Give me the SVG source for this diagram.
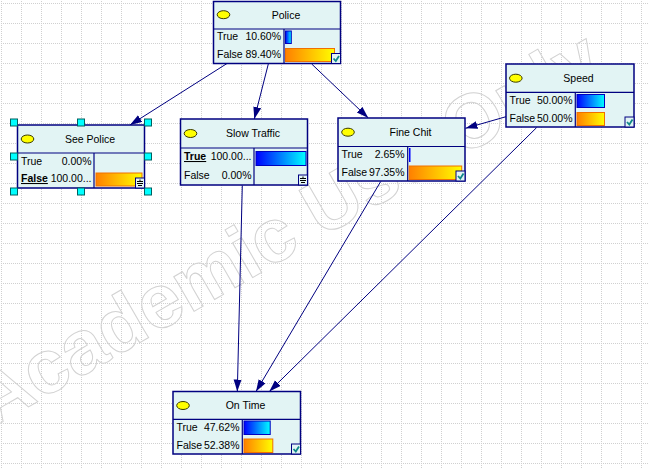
<svg xmlns="http://www.w3.org/2000/svg" width="648" height="468" viewBox="0 0 648 468">
<defs>
<style>
text{font-family:"Liberation Sans",Arial,sans-serif;font-size:10.5px;fill:#000}
.t{text-anchor:middle}
.v{text-anchor:end}
.b{font-weight:bold;text-decoration:underline}
.box{fill:#e2f4f4;stroke:#000080;stroke-width:1.5}
.sep{stroke:#000080;stroke-width:1.2}
.ell{fill:#ffff00;stroke:#3a3a00;stroke-width:1}
.tb{fill:url(#blue);stroke:#0000c0;stroke-width:1}
.fb{fill:url(#orange);stroke:#f07000;stroke-width:1}
.chk{fill:#e2f4f4;stroke:#000080;stroke-width:1}
.ck{fill:none;stroke:#108888;stroke-width:1.8}
.fl{fill:none;stroke:#000;stroke-width:1}
.edge{fill:none;stroke:#000080;stroke-width:1}
.h{fill:#00ffff;stroke:#006060;stroke-width:1}
.wm{font-family:"Liberation Sans",Arial,sans-serif;font-size:76px;font-weight:bold;fill:none;stroke:#d2d2d2;stroke-width:1}
</style>
<linearGradient id="blue" x1="0" y1="0" x2="1" y2="0"><stop offset="0" stop-color="#0000ff"/><stop offset="1" stop-color="#00ffff"/></linearGradient>
<linearGradient id="orange" x1="0" y1="0" x2="1" y2="0"><stop offset="0" stop-color="#ff8000"/><stop offset="1" stop-color="#ffff00"/></linearGradient>
<pattern id="grid" x="1" y="3" width="20" height="20" patternUnits="userSpaceOnUse">
<path d="M0.5 0V20M0 0.5H20" fill="none" stroke="#d0d0d0" stroke-width="1" stroke-dasharray="1 1"/>
</pattern>
<marker id="arr" markerUnits="userSpaceOnUse" markerWidth="13" markerHeight="9" refX="12" refY="4" orient="auto">
<path d="M0,0 L12,4 L0,8 z" fill="#000080"/>
</marker>
</defs>
<rect width="648" height="468" fill="#ffffff"/>
<rect width="648" height="468" fill="url(#grid)"/>
<g id="watermark">
<text class="wm" transform="translate(-8,428) rotate(-30)">Academic Use Only</text>
</g>
<g id="connectors">
<path class="edge" marker-end="url(#arr)" d="M227.3 63.3L130 125"/>
<path class="edge" marker-end="url(#arr)" d="M268.3 64L254.3 119"/>
<path class="edge" marker-end="url(#arr)" d="M311.7 64L368.3 118"/>
<path class="edge" marker-end="url(#arr)" d="M506 116.7L465.5 128.3"/>
<path class="edge" marker-end="url(#arr)" d="M242.3 185.5L237.3 391.5"/>
<path class="edge" marker-end="url(#arr)" d="M380.7 181.5L256 391.5"/>
<path class="edge" marker-end="url(#arr)" d="M536.7 127.5L269.3 391.5"/>
</g>
<g id="police" transform="translate(213.5,1.5)">
<rect class="box" x="0" y="0" width="127" height="62"/>
<line class="sep" x1="0" y1="27.5" x2="127" y2="27.5"/>
<line class="sep" x1="70.5" y1="27.5" x2="70.5" y2="62"/>
<ellipse class="ell" cx="10" cy="13.2" rx="6.3" ry="4"/>
<text class="t" x="72.5" y="17">Police</text>
<text x="3.5" y="38.5">True</text><text class="v" x="67.5" y="38.5">10.60%</text>
<text x="3.5" y="56">False</text><text class="v" x="67.5" y="56">89.40%</text>
<rect class="tb" x="72" y="29.5" width="5.8" height="12.5"/>
<rect class="fb" x="72" y="47" width="49" height="13"/>
<rect class="chk" x="118" y="52" width="9" height="10"/>
<path class="ck" d="M120 57L122.3 59.5L125.5 54.5"/>
</g>
<g id="seepolice" transform="translate(17.5,125)">
<rect class="box" x="0" y="0" width="127" height="63"/>
<line class="sep" x1="0" y1="28" x2="127" y2="28"/>
<line class="sep" x1="76.5" y1="28" x2="76.5" y2="63"/>
<ellipse class="ell" cx="10" cy="14" rx="6.3" ry="4"/>
<text class="t" x="72.5" y="17.5">See Police</text>
<text x="3.5" y="39.5">True</text><text class="v" x="74" y="39.5">0.00%</text>
<text class="b" x="3.5" y="57">False</text><text class="v" x="74" y="57">100.00...</text>
<rect class="fb" x="78.5" y="48" width="46" height="13"/>
<rect class="chk" x="118" y="53" width="9" height="10"/>
<path class="fl" d="M122.5 54.5V56.5M119.5 56.5H125.5M119.5 58.5H125.5M120.5 60.5H124.5"/>
<rect class="h" x="-7" y="-6" width="7" height="7"/>
<rect class="h" x="60" y="-6" width="7" height="7"/>
<rect class="h" x="127" y="-6" width="7" height="7"/>
<rect class="h" x="-7" y="28" width="7" height="7"/>
<rect class="h" x="127" y="28" width="7" height="7"/>
<rect class="h" x="-7" y="63" width="7" height="7"/>
<rect class="h" x="60" y="63" width="7" height="7"/>
<rect class="h" x="127" y="63" width="7" height="7"/>
</g>
<g id="slowtraffic" transform="translate(180.5,119)">
<rect class="box" x="0" y="0" width="127" height="66"/>
<line class="sep" x1="0" y1="29" x2="127" y2="29"/>
<line class="sep" x1="73.5" y1="29" x2="73.5" y2="66"/>
<ellipse class="ell" cx="10" cy="14.5" rx="6.3" ry="4"/>
<text class="t" x="72.5" y="18">Slow Traffic</text>
<text class="b" x="3.5" y="41">True</text><text class="v" x="71" y="41">100.00...</text>
<text x="3.5" y="59.5">False</text><text class="v" x="71" y="59.5">0.00%</text>
<rect class="tb" x="75.5" y="32.5" width="50" height="14"/>
<rect class="chk" x="118" y="56" width="9" height="10"/>
<path class="fl" d="M122.5 57.5V59.5M119.5 59.5H125.5M119.5 61.5H125.5M120.5 63.5H124.5"/>
</g>
<g id="finechit" transform="translate(338,118)">
<rect class="box" x="0" y="0" width="127" height="63"/>
<line class="sep" x1="0" y1="28.5" x2="127" y2="28.5"/>
<line class="sep" x1="69.7" y1="28.5" x2="69.7" y2="63"/>
<ellipse class="ell" cx="10" cy="14.2" rx="6.3" ry="4"/>
<text class="t" x="72.5" y="17.7">Fine Chit</text>
<text x="3.5" y="40">True</text><text class="v" x="66.5" y="40">2.65%</text>
<text x="3.5" y="57.5">False</text><text class="v" x="66.5" y="57.5">97.35%</text>
<rect x="71" y="30" width="1.5" height="14" fill="#0000ff"/>
<rect class="fb" x="71.2" y="48" width="52.5" height="13.5"/>
<rect class="chk" x="118" y="53" width="9" height="10"/>
<path class="ck" d="M120 58L122.3 60.5L125.5 55.5"/>
</g>
<g id="speed" transform="translate(506,64)">
<rect class="box" x="0" y="0" width="128" height="63"/>
<line class="sep" x1="0" y1="28.3" x2="128" y2="28.3"/>
<line class="sep" x1="69.3" y1="28.3" x2="69.3" y2="63"/>
<ellipse class="ell" cx="9.8" cy="14.2" rx="6.3" ry="4"/>
<text class="t" x="72.5" y="17.7">Speed</text>
<text x="3.5" y="39.5">True</text><text class="v" x="66.5" y="39.5">50.00%</text>
<text x="3.5" y="57.5">False</text><text class="v" x="66.5" y="57.5">50.00%</text>
<rect class="tb" x="71" y="30.5" width="27.5" height="13"/>
<rect class="fb" x="71" y="48.5" width="27.5" height="13"/>
<rect class="chk" x="119" y="53" width="9" height="10"/>
<path class="ck" d="M121 58L123.3 60.5L126.5 55.5"/>
</g>
<g id="ontime" transform="translate(173,391.5)">
<rect class="box" x="0" y="0" width="127.5" height="62.5"/>
<line class="sep" x1="0" y1="27.8" x2="127.5" y2="27.8"/>
<line class="sep" x1="69.3" y1="27.8" x2="69.3" y2="62.5"/>
<ellipse class="ell" cx="10" cy="14" rx="6.3" ry="4"/>
<text class="t" x="72.5" y="17.5">On Time</text>
<text x="3.5" y="39">True</text><text class="v" x="66.5" y="39">47.62%</text>
<text x="3.5" y="57">False</text><text class="v" x="66.5" y="57">52.38%</text>
<rect class="tb" x="71" y="29.5" width="26.2" height="13.5"/>
<rect class="fb" x="71" y="47.5" width="28.8" height="13.5"/>
<rect class="chk" x="118.5" y="52.5" width="9" height="10"/>
<path class="ck" d="M120.5 57.5L122.8 60L126 55"/>
</g>
</svg>
